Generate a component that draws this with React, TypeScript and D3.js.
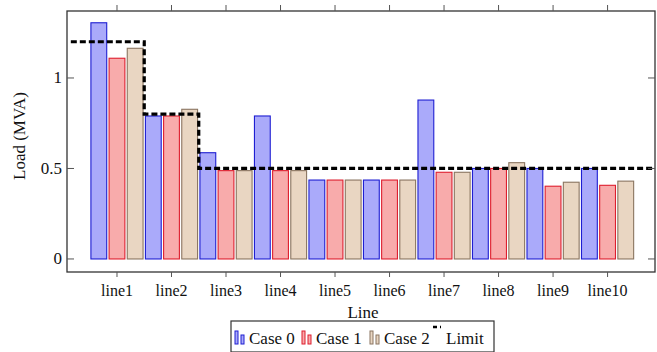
import React from 'react';
import * as d3 from 'd3';

const categories = ['line1', 'line2', 'line3', 'line4', 'line5', 'line6', 'line7', 'line8', 'line9', 'line10'];
const case0 = [1.305, 0.79, 0.587, 0.79, 0.436, 0.436, 0.878, 0.5, 0.5, 0.5];
const case1 = [1.109, 0.79, 0.488, 0.488, 0.436, 0.436, 0.479, 0.5, 0.402, 0.407];
const case2 = [1.164, 0.827, 0.488, 0.488, 0.436, 0.436, 0.479, 0.532, 0.424, 0.43];
const limit = [1.2, 0.8, 0.5, 0.5, 0.5, 0.5, 0.5, 0.5, 0.5, 0.5];
const yTicks = [0, 0.5, 1];
const seriesNames = ['Case 0', 'Case 1', 'Case 2'];

const W = 657;
const H = 352;
const frame = { left: 67, right: 655, top: 11, bottom: 272 };
const FONT = "'Liberation Serif', 'Times New Roman', Times, 'DejaVu Serif', serif";
const txt = { fontFamily: FONT };

const styles = [
  { fill: '#aaaafa', stroke: '#1e1ed2' },
  { fill: '#f8abab', stroke: '#de1e2e' },
  { fill: '#e9d6c2', stroke: '#8a7560' },
];

export default function App() {
  const x = d3.scaleLinear().domain([-0.917, 9.87]).range([frame.left, frame.right]);
  const y = d3.scaleLinear().domain([-0.072, 1.37]).range([frame.bottom, frame.top]);
  const series = [case0, case1, case2];
  const pitch = 1 / 3;
  const barW = 0.29;

  const stepPts: [number, number][] = [];
  limit.forEach((v, i) => {
    const x0 = i === 0 ? -0.917 + 0.07 : i - 0.5;
    const x1 = i === limit.length - 1 ? 9.87 : i + 0.5;
    stepPts.push([x(x0), y(v)]);
    stepPts.push([x(x1), y(v)]);
  });
  const stepLine = d3.line<[number, number]>()(stepPts) as string;

  const legend = { x: 231, y: 321, w: 263, h: 31 };
  const legendItems = [
    { s: 0, iconX: 234, textX: 249 },
    { s: 1, iconX: 301, textX: 316 },
    { s: 2, iconX: 369, textX: 384 },
  ];

  return (
    <svg
      width={W}
      height={H}
      style={{ position: 'absolute', left: 0, top: 0, background: '#fff', fontFamily: FONT }}
    >
      {series.map((vals, s) =>
        vals.map((v, i) => {
          const cx = i + (s - 1) * pitch;
          const x0 = x(cx - barW / 2);
          const x1 = x(cx + barW / 2);
          return (
            <rect
              key={`b${s}-${i}`}
              x={x0}
              y={y(v)}
              width={x1 - x0}
              height={y(0) - y(v)}
              fill={styles[s].fill}
              stroke={styles[s].stroke}
              strokeWidth={1.1}
            />
          );
        })
      )}
      <path d={stepLine} fill="none" stroke="#000" strokeWidth={3.2} strokeDasharray="6,3" />
      <rect
        x={frame.left}
        y={frame.top}
        width={frame.right - frame.left}
        height={frame.bottom - frame.top}
        fill="none"
        stroke="#333"
        strokeWidth={1.3}
      />
      {categories.map((c, i) => (
        <g key={c}>
          <line x1={x(i)} x2={x(i)} y1={frame.bottom} y2={frame.bottom + 5} stroke="#555" />
          <line x1={x(i)} x2={x(i)} y1={frame.top} y2={frame.top - 6} stroke="#555" />
          <text x={x(i)} y={296} textAnchor="middle" fontSize={16} fill="#111" style={txt}>
            {c}
          </text>
        </g>
      ))}
      {yTicks.map((t) => (
        <g key={t}>
          <line x1={frame.left} x2={frame.left + 7} y1={y(t)} y2={y(t)} stroke="#555" />
          <line x1={frame.right} x2={frame.right - 7} y1={y(t)} y2={y(t)} stroke="#555" />
          <text x={62} y={y(t) + 5.5} textAnchor="end" fontSize={17} fill="#111" style={txt}>
            {t}
          </text>
        </g>
      ))}
      <text
        transform={`translate(25,136) rotate(-90)`}
        textAnchor="middle"
        fontSize={17}
        fill="#111"
        style={txt}
      >
        Load (MVA)
      </text>
      <text x={363} y={318} textAnchor="middle" fontSize={17} fill="#111" style={txt}>
        Line
      </text>
      <rect x={legend.x} y={legend.y} width={legend.w} height={legend.h} fill="#fff" stroke="#333" strokeWidth={1.2} />
      {legendItems.map((it) => (
        <g key={it.s}>
          <rect x={it.iconX + 1} y={331} width={3} height={13} fill={styles[it.s].fill} stroke={styles[it.s].stroke} strokeWidth={1} />
          <rect x={it.iconX + 7} y={335} width={3} height={9} fill={styles[it.s].fill} stroke={styles[it.s].stroke} strokeWidth={1} />
          <text x={it.textX} y={344} fontSize={17} fill="#111" style={txt}>
            {seriesNames[it.s]}
          </text>
        </g>
      ))}
      <line x1={433} x2={441} y1={327} y2={327} stroke="#000" strokeWidth={2.5} strokeDasharray="4,3" />
      <text x={446} y={344} fontSize={17} fill="#111" style={txt}>
        Limit
      </text>
    </svg>
  );
}
